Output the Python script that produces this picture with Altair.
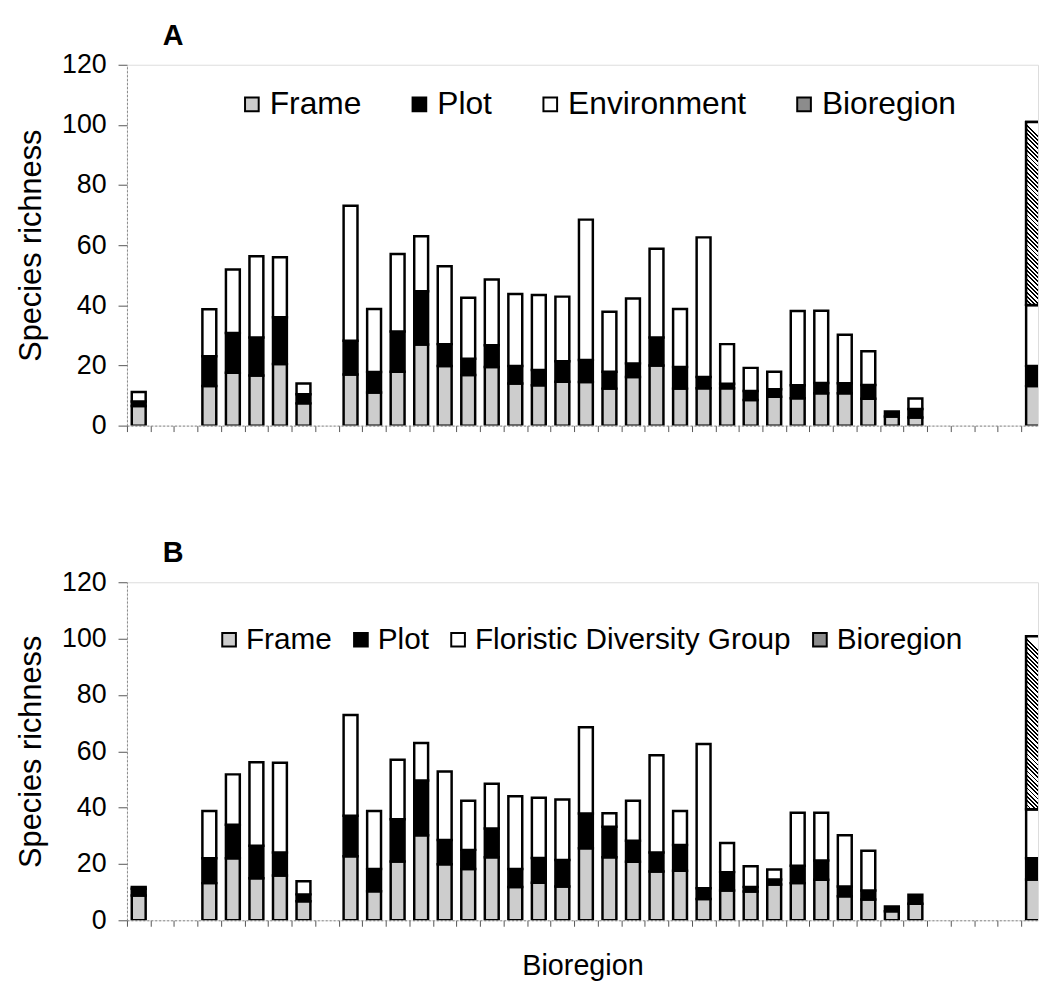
import altair as alt
import pandas as pd

# Slot positions along the x axis (empty slots are gaps)
slots = [0, 3, 4, 5, 6, 7, 9, 10, 11, 12, 13, 14, 15, 16, 17, 18, 19, 20, 21,
         22, 23, 24, 25, 26, 27, 28, 29, 30, 31, 32, 33, 38]

# Panel A
a_frame = [6.5, 13.2, 17.6, 16.7, 20.5, 7.4, 17.0, 11.0, 17.9, 27.0, 19.8, 16.8, 19.5, 14.0, 13.4, 14.6,
           14.5, 12.3, 16.2, 20.0, 12.3, 12.4, 12.4, 8.5, 9.6, 9.1, 10.8, 10.8, 8.9, 3.0, 2.7, 13.2]
a_plot = [1.5, 9.9, 13.2, 12.6, 15.5, 3.0, 11.2, 6.8, 13.4, 17.7, 7.3, 5.4, 7.2, 5.8, 5.1, 6.8,
          7.3, 5.6, 4.5, 9.3, 7.2, 3.8, 1.5, 3.0, 2.5, 4.3, 3.4, 3.3, 4.6, 1.7, 2.8, 6.6]
a_env = [3.2, 15.6, 21.1, 27.0, 20.0, 3.6, 44.9, 21.0, 25.8, 18.3, 25.9, 20.3, 21.9, 24.0, 24.9, 21.5,
         46.7, 20.0, 21.6, 29.5, 19.3, 46.4, 13.2, 7.7, 5.8, 24.7, 24.0, 16.1, 11.2, 0.0, 3.5, 20.3]
a_bio = [0.0] * 31 + [60.9]

# Panel B
b_frame = [8.8, 13.2, 22.0, 14.9, 15.9, 6.8, 22.7, 10.3, 20.9, 30.2, 19.9, 18.2, 22.4, 11.8, 13.3, 12.0,
           25.6, 22.4, 20.8, 17.3, 17.6, 7.6, 10.6, 10.2, 12.7, 13.2, 14.4, 8.5, 7.4, 3.2, 5.9, 14.5]
b_plot = [2.4, 8.8, 11.9, 11.6, 8.2, 2.4, 14.4, 7.9, 15.0, 19.4, 8.6, 6.8, 10.2, 6.4, 8.8, 9.4,
          12.3, 10.8, 7.4, 6.8, 9.1, 3.8, 6.5, 1.6, 1.8, 6.2, 6.8, 3.5, 3.2, 1.7, 3.2, 7.5]
b_fdg = [0.6, 16.8, 17.9, 29.6, 31.8, 4.7, 35.8, 20.6, 21.1, 13.3, 24.3, 17.4, 15.9, 25.8, 21.4, 21.5,
         30.6, 4.8, 14.2, 34.5, 12.1, 51.2, 10.3, 7.4, 3.5, 18.8, 17.0, 18.2, 14.1, 0.0, 0.0, 17.4]
b_bio = [0.0] * 31 + [61.4]

FONT = "Liberation Sans, Arial, Helvetica, sans-serif"
BLACK = "#000000"
X_MAX = 38.71


def make_df(frame, plot, mid, bio, mid_name):
    rows = []
    names = ["Frame", "Plot", mid_name, "Bioregion"]
    for i, s in enumerate(slots):
        base = 0.0
        for k, vals in enumerate([frame, plot, mid, bio]):
            v = vals[i]
            if v > 0:
                rows.append({"pos": s + 0.5, "segment": names[k], "order": k,
                             "y0": base, "y1": base + v})
            base += v
    return pd.DataFrame(rows)


def hatch_fill(w, h):
    n = max(10, int(round(h / 4.3)))
    stops = []
    for k in range(n):
        t0 = k / n
        tm = (k + 0.45) / n
        t1 = (k + 1) / n
        stops += [{"offset": t0, "color": "#000000"}, {"offset": tm, "color": "#000000"},
                  {"offset": tm, "color": "#ffffff"}, {"offset": t1, "color": "#ffffff"}]
    return {"gradient": "linear", "x1": 0, "y1": 1, "x2": w / h, "y2": 0, "stops": stops}


def panel(df, mid_name, label, height, legend_x, legend_y, col_pad, legend_fs, show_xtitle, hatch_h):
    names = ["Frame", "Plot", mid_name, "Bioregion"]
    colors = ["#cdcdcd", "#000000", "#ffffff", "#8c8c8c"]
    x_axis = alt.Axis(values=list(range(39)), labels=False, tickSize=6, tickColor="#555555",
                      domainColor="#888888", domainDash=[2, 2], grid=False,
                      title="Bioregion" if show_xtitle else None,
                      titleFont=FONT, titleFontSize=29, titleFontWeight="normal",
                      titleColor=BLACK, titlePadding=25)
    y_axis = alt.Axis(values=[0, 20, 40, 60, 80, 100, 120], title="Species richness",
                      titleFont=FONT, titleFontSize=31, titleFontWeight="normal", titleColor=BLACK,
                      titlePadding=14, labelFont=FONT, labelFontSize=27, labelColor=BLACK,
                      labelPadding=12, tickSize=9, tickColor="#555555", domainColor="#888888",
                      domainDash=[2, 2], grid=False)
    x = alt.X("pos:Q", scale=alt.Scale(domain=[0, X_MAX], nice=False, zero=False, padding=0),
              axis=x_axis)
    y = alt.Y("y1:Q", scale=alt.Scale(domain=[0, 120], nice=False), axis=y_axis)

    base = alt.Chart(df).mark_bar(size=14, stroke=BLACK, strokeWidth=2.5, clip=True).encode(
        x=x, y=y, y2="y0:Q",
        color=alt.Color("segment:N", scale=alt.Scale(domain=names, range=colors),
                        legend=alt.Legend(orient="none", legendX=legend_x, legendY=legend_y,
                                          direction="horizontal", title=None, symbolType="square",
                                          symbolSize=190, symbolStrokeColor=BLACK,
                                          symbolStrokeWidth=2, symbolOpacity=1,
                                          labelFont=FONT, labelFontSize=legend_fs,
                                          labelColor=BLACK, labelOffset=2,
                                          columnPadding=col_pad, labelLimit=500)),
    )
    hatch = alt.Chart(df).transform_filter(alt.datum.segment == "Bioregion").mark_bar(
        size=14, stroke=BLACK, strokeWidth=2.5, clip=True, fill=hatch_fill(14, hatch_h)
    ).encode(x=x, y=y, y2="y0:Q")

    return alt.layer(base, hatch).properties(
        width=919, height=height,
        title=alt.Title(label, anchor="start", frame="group", dx=36, fontSize=29,
                        fontWeight="bold", font=FONT, color=BLACK, offset=0),
    )


dfa = make_df(a_frame, a_plot, a_env, a_bio, "Environment")
dfb = make_df(b_frame, b_plot, b_fdg, b_bio, "Floristic Diversity Group")

pa = panel(dfa, "Environment", "A", 364, 110, 24, 42, 32, False, 60.9 * 364 / 120)
pb = panel(dfb, "Floristic Diversity Group", "B", 341, 88, 43, 14, 30, True, 61.4 * 341 / 120)

chart = alt.vconcat(pa, pb, spacing=100).resolve_scale(
    color="independent", x="independent", y="independent"
).resolve_legend(color="independent").properties(
    padding={"left": 7, "top": 9, "right": 0, "bottom": 0}
).configure_view(stroke=None).configure(background="white")

chart.save("out.html", embed_options={"renderer": "svg", "actions": False})
